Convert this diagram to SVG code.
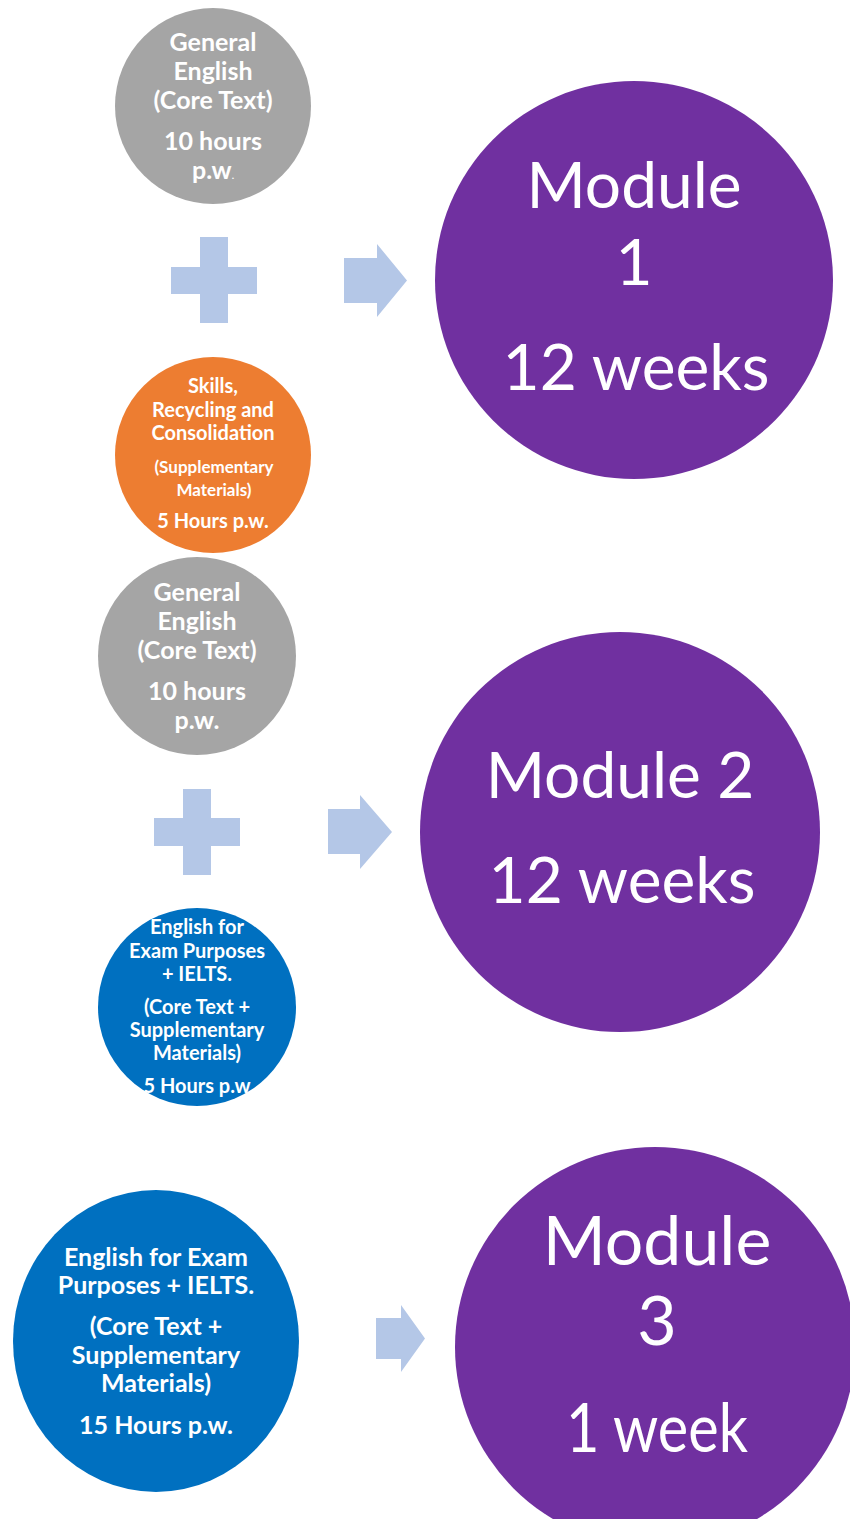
<svg xmlns="http://www.w3.org/2000/svg" width="850" height="1519" viewBox="0 0 850 1519">
<style>
.gray{fill:#A5A5A5}
.orange{fill:#ED7D31}
.blue{fill:#0070C0}
.purple{fill:#7030A0}
.sym{fill:#B4C7E7}
.t{font-family:Lato,"Open Sans","Liberation Sans",sans-serif;font-weight:bold;fill:#FFFFFF;text-anchor:middle}
.m{font-family:Lato,"Open Sans","Liberation Sans",sans-serif;font-weight:normal;fill:#FFFFFF;text-anchor:middle}
</style>
<rect width="850" height="1519" fill="#FFFFFF"/>

<g id="ge1">
<circle class="gray" cx="213" cy="106" r="98"/>
<text class="t" font-size="25"><tspan x="213" y="51">General</tspan><tspan x="213" y="80">English</tspan><tspan x="213" y="109">(Core Text)</tspan><tspan x="213" y="150">10 hours</tspan><tspan x="213" y="179">p.w<tspan font-size="10">.</tspan></tspan></text>
</g>

<g id="plus1"><path class="sym" d="M200,237H228V267H257V294H228V323H200V294H171V267H200Z"/></g>

<g id="skills">
<circle class="orange" cx="213" cy="455" r="98"/>
<text class="t" font-size="20"><tspan x="213" y="393">Skills,</tspan><tspan x="213" y="417">Recycling and</tspan><tspan x="213" y="440">Consolidation</tspan></text>
<text class="t" font-size="17"><tspan x="214" y="473">(Supplementary</tspan><tspan x="214" y="496">Materials)</tspan></text>
<text class="t" font-size="20"><tspan x="213" y="528">5 Hours p.w.</tspan></text>
</g>

<g id="module1">
<circle class="purple" cx="634" cy="280" r="199"/>
<text class="m" font-size="64"><tspan x="634" y="208">Module</tspan><tspan x="634" y="285">1</tspan><tspan x="636" y="390">12 weeks</tspan></text>
</g>

<g id="ge2">
<circle class="gray" cx="197" cy="656" r="99"/>
<text class="t" font-size="25"><tspan x="197" y="601">General</tspan><tspan x="197" y="630">English</tspan><tspan x="197" y="659">(Core Text)</tspan><tspan x="197" y="700">10 hours</tspan><tspan x="197" y="729">p.w.</tspan></text>
</g>

<g id="plus2"><path class="sym" d="M183,789H211V818H240V846H211V875H183V846H154V818H183Z"/></g>

<g id="exam1">
<circle class="blue" cx="197" cy="1007" r="99"/>
<text class="t" font-size="20"><tspan x="197" y="934">English for</tspan><tspan x="197" y="958">Exam Purposes</tspan><tspan x="197" y="981">+ IELTS.</tspan><tspan x="197" y="1014">(Core Text +</tspan><tspan x="197" y="1037">Supplementary</tspan><tspan x="197" y="1060">Materials)</tspan><tspan x="197" y="1093">5 Hours p.w</tspan></text>
</g>

<g id="module2">
<circle class="purple" cx="620" cy="832" r="200"/>
<text class="m" font-size="64"><tspan x="620" y="798">Module 2</tspan><tspan x="622" y="903">12 weeks</tspan></text>
</g>

<g id="exam2">
<ellipse class="blue" cx="156" cy="1341" rx="143" ry="151"/>
<text class="t" font-size="25"><tspan x="156" y="1266">English for Exam</tspan><tspan x="156" y="1294">Purposes + IELTS.</tspan><tspan x="156" y="1335">(Core Text +</tspan><tspan x="156" y="1364">Supplementary</tspan><tspan x="156" y="1392">Materials)</tspan><tspan x="156" y="1434">15 Hours p.w.</tspan></text>
</g>

<g id="module3">
<circle class="purple" cx="655" cy="1347" r="200"/>
<text class="m" font-size="68"><tspan x="657" y="1265">Module</tspan><tspan x="657" y="1345">3</tspan></text>
<text class="m" font-size="68" x="657" y="1452" textLength="182" lengthAdjust="spacingAndGlyphs">1 week</text>
</g>

<g id="connectors">
<path class="sym" d="M344,258H377V244L407,280.5L377,317V303H344Z"/>
<path class="sym" d="M328,809H360V795L392,832L360,869V854H328Z"/>
<path class="sym" d="M376,1318H401V1305L425,1338.5L401,1372V1359H376Z"/>
</g>
</svg>
